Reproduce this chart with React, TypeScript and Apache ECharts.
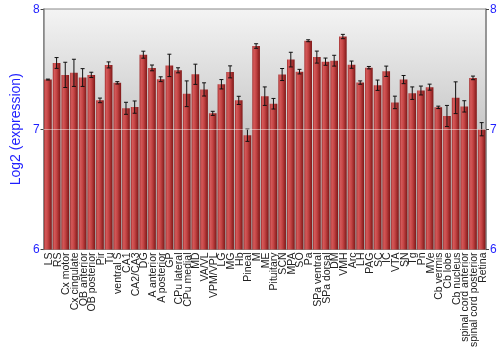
import React, { useEffect, useRef } from "react";
import * as echarts from "echarts";

const categories = [
  "LS", "RS", "Cx motor", "Cx cingulate", "OB anterior", "OB posterior", "Pir", "Tu", "ventral S", "CA1",
  "CA2/CA3", "DG", "A anterior", "A posterior", "GP", "CPu lateral", "CPu medial", "MD", "VA/VL", "VPM/VPL",
  "LG", "MG", "Hb", "Pineal", "M", "ME", "Pituitary", "SCN", "MPA", "SO",
  "Pa", "SPa ventral", "SPa dorsal", "DM", "VMH", "Arc", "LH", "PAG", "SC", "IC",
  "VTA", "SN", "Tg", "Pn", "MVe", "Cb vermis", "Cb lobe", "Cb nucleus", "spinal cord anterior", "spinal cord posterior",
  "Retina",
];

const values = [
  7.413, 7.551, 7.452, 7.469, 7.430, 7.452, 7.240, 7.535, 7.386, 7.174,
  7.184, 7.620, 7.510, 7.416, 7.531, 7.490, 7.295, 7.457, 7.331, 7.132,
  7.374, 7.477, 7.240, 6.950, 7.692, 7.275, 7.212, 7.455, 7.579, 7.479,
  7.736, 7.600, 7.562, 7.570, 7.771, 7.537, 7.388, 7.512, 7.366, 7.482,
  7.223, 7.413, 7.300, 7.322, 7.350, 7.182, 7.110, 7.262, 7.190, 7.427,
  7.000,
];

const errors = [
  0.004, 0.045, 0.105, 0.113, 0.074, 0.022, 0.019, 0.025, 0.010, 0.050,
  0.051, 0.029, 0.024, 0.020, 0.093, 0.021, 0.107, 0.084, 0.055, 0.017,
  0.039, 0.050, 0.034, 0.051, 0.019, 0.077, 0.044, 0.050, 0.061, 0.019,
  0.008, 0.050, 0.030, 0.045, 0.018, 0.030, 0.014, 0.010, 0.043, 0.043,
  0.052, 0.034, 0.052, 0.037, 0.025, 0.010, 0.088, 0.132, 0.047, 0.015,
  0.055,
];

const yTicks = [6, 7, 8];

export default function App() {
  const ref = useRef<HTMLDivElement>(null);
  useEffect(() => {
    if (!ref.current) return;
    const chart = echarts.init(ref.current, null, { renderer: "svg" });
    const blue = "#1f1fff";
    const errData = values.map((v, i) => [i, v - errors[i], v + errors[i]]);
    const yAxisBase = {
      type: "value",
      min: yTicks[0],
      max: yTicks[yTicks.length - 1],
      interval: 1,
      axisLine: { show: true, lineStyle: { color: "#888", width: 1.5 } },
      axisTick: { show: true, length: 3, lineStyle: { color: "#444" } },
      axisLabel: { color: blue, fontSize: 12, fontFamily: "Liberation Sans", margin: 4 },
      splitLine: { show: false },
    };
    chart.setOption({
      animation: false,
      grid: {
        left: 28,
        right: 14,
        top: 9,
        bottom: 99,
        show: true,
        borderColor: "#888",
        borderWidth: 1,
        backgroundColor: new echarts.graphic.LinearGradient(0, 0, 0, 1, [
          { offset: 0, color: "#f4f4f4" },
          { offset: 0.5, color: "#c8c8c8" },
          { offset: 1, color: "#a0a0a0" },
        ]),
      },
      xAxis: {
        type: "category",
        data: categories,
        axisLine: { show: false },
        axisTick: { show: false },
        axisLabel: {
          rotate: 90,
          interval: 0,
          fontSize: 10.5,
          fontFamily: "Liberation Sans",
          color: "#222",
          margin: 3,
        },
      },
      yAxis: [
        {
          ...yAxisBase,
          position: "left",
          name: "Log2 (expression)",
          nameLocation: "middle",
          nameGap: 13,
          nameTextStyle: { color: blue, fontSize: 14, fontFamily: "Liberation Sans" },
        },
        { ...yAxisBase, position: "right" },
      ],
      series: [
        {
          type: "bar",
          data: values,
          barCategoryGap: "12%",
          itemStyle: {
            color: new echarts.graphic.LinearGradient(0, 0, 1, 0, [
              { offset: 0, color: "#a02a2a" },
              { offset: 0.2, color: "#d45a5a" },
              { offset: 0.5, color: "#c44444" },
              { offset: 1, color: "#7e1717" },
            ]),
          },
          markLine: {
            silent: true,
            symbol: "none",
            label: { show: false },
            lineStyle: { color: "rgba(255,255,255,0.45)", type: "solid", width: 1 },
            data: [{ yAxis: 7 }],
            z: 10,
          },
        },
        {
          type: "custom",
          data: errData,
          encode: { x: 0, y: [1, 2] },
          z: 5,
          renderItem: (params: any, api: any) => {
            const x = api.value(0);
            const lo = api.coord([x, api.value(1)]);
            const hi = api.coord([x, api.value(2)]);
            const hw = 2;
            const style = { stroke: "#111", lineWidth: 1 };
            return {
              type: "group",
              children: [
                { type: "line", shape: { x1: lo[0], y1: lo[1], x2: hi[0], y2: hi[1] }, style },
                { type: "line", shape: { x1: lo[0] - hw, y1: lo[1], x2: lo[0] + hw, y2: lo[1] }, style },
                { type: "line", shape: { x1: hi[0] - hw, y1: hi[1], x2: hi[0] + hw, y2: hi[1] }, style },
              ],
            };
          },
        },
      ],
    });
    return () => chart.dispose();
  }, []);
  return (
    <div style={{ position: "fixed", left: 0, top: 0 }}>
      <div ref={ref} style={{ width: 500, height: 350 }} />
    </div>
  );
}
